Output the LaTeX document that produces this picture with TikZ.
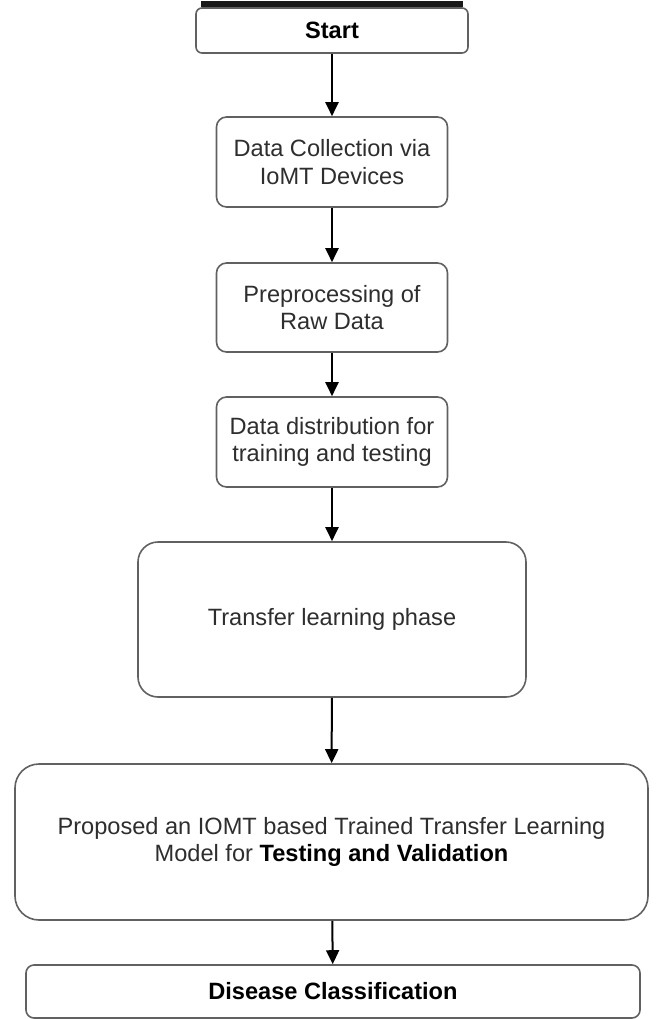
\documentclass[tikz,border=0pt]{standalone}
\usepackage{fontspec}
\setmainfont{Liberation Sans}
\usepackage{xcolor}
\usetikzlibrary{arrows.meta,positioning}

\begin{document}
\begin{tikzpicture}[x=0.5pt,y=-0.5pt,
  box/.style={draw=black!62,line width=0.8pt,rounded corners=5pt,align=center,fill=white,inner sep=2pt,text=black!82,font=\fontsize{11.8}{13.6}\selectfont,minimum width=115.5pt,minimum height=45pt},
  arrow/.style={-{Triangle[length=7pt,width=6.5pt]},line width=1pt,draw=black}
]
\useasboundingbox (0,0) rectangle (656,1019);
\node[box,minimum width=136pt,minimum height=22.5pt,rounded corners=3pt,text=black] (start) at (332,30.5) {\textbf{Start}};
\node[box] (collect) at (332,162) {Data Collection via\\IoMT Devices};
\node[box,minimum height=44.5pt] (prep) at (332,307.5) {Preprocessing of\\Raw Data};
\node[box] (distrib) at (332,442) {Data distribution for\\training and testing};
\node[box,minimum width=194pt,minimum height=77.5pt,rounded corners=10pt] (transfer) at (332,619.5) {Transfer learning phase};
\node[box,minimum width=316.5pt,minimum height=78pt,rounded corners=12pt] (proposed) at (331.5,842) {Proposed an IOMT based Trained Transfer Learning\\Model for \textcolor{black}{\textbf{Testing and Validation}}};
\node[box,minimum width=307pt,minimum height=26.5pt,rounded corners=4pt,text=black] (disease) at (333,991.5) {\textbf{Disease Classification}};

% dark top edge of the start box
\draw[line width=3pt,black!90] ([xshift=3pt,yshift=1.5pt]start.north west) -- ([xshift=-3pt,yshift=1.5pt]start.north east);

\draw[arrow] (start) -- (collect);
\draw[arrow] (collect) -- (prep);
\draw[arrow] (prep) -- (distrib);
\draw[arrow] (distrib) -- (transfer);
\draw[arrow] (transfer) -- (proposed);
\draw[arrow] (proposed) -- (disease);
\end{tikzpicture}
\end{document}
